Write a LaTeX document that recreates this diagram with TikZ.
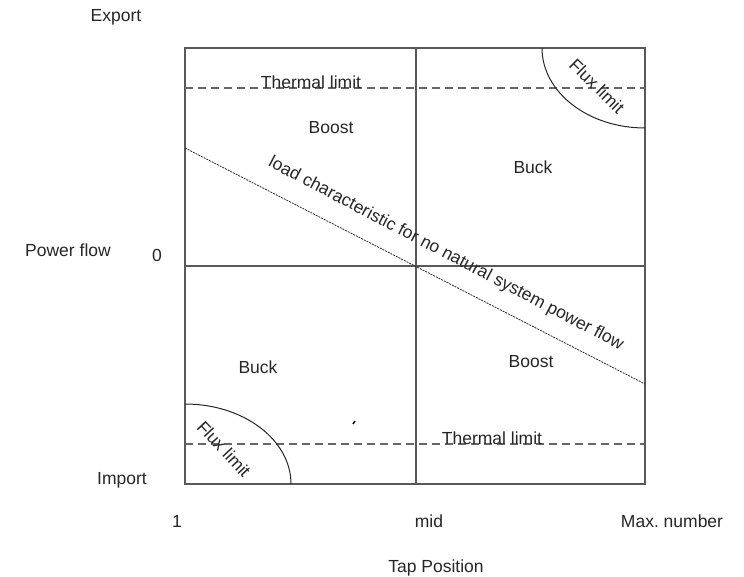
\documentclass[tikz,border=0pt]{standalone}
\usepackage{fontspec}
\setmainfont{Liberation Sans}
\begin{document}
\begin{tikzpicture}[x=1pt,y=-1pt,
  lbl/.style={font=\fontsize{17.5}{20}\selectfont, text=black!85, inner sep=0pt},
  frame/.style={draw=black!65, line width=1.2pt},
  limitline/.style={draw=black!60, line width=1.2pt, dash pattern=on 8pt off 5pt},
  loadline/.style={draw=black!85, line width=0.8pt, dash pattern=on 2pt off 1pt},
  arcline/.style={draw=black!85, line width=1pt}]
\useasboundingbox (0,0) rectangle (744,577);
% frame
\coordinate (tl) at (185,48);
\coordinate (br) at (645,484);
\coordinate (tm) at (416,48);
\coordinate (bm) at (416,484);
\coordinate (lm) at (185,266);
\coordinate (rm) at (645,266);
\draw[frame] (tl) rectangle (br);
\draw[frame] (tm) -- (bm);
\draw[frame] (lm) -- (rm);
% thermal limits
\coordinate (tl1) at (185,88);
\coordinate (tr1) at (645,88);
\coordinate (bl1) at (185,444);
\coordinate (br1) at (645,444);
\draw[limitline] (tl1) -- (tr1);
\draw[limitline] (bl1) -- (br1);
% load characteristic
\coordinate (ls) at (185,148);
\coordinate (le) at (645,384);
\draw[loadline] (ls) -- (le);
% flux limit arcs
\coordinate (fa) at (542,48);
\draw[arcline] (fa) arc[start angle=180, end angle=270, x radius=103pt, y radius=80pt];
\coordinate (fb) at (185,404);
\draw[arcline] (fb) arc[start angle=90, end angle=0, x radius=106pt, y radius=80pt];
% small mark
\coordinate (m1) at (353,424);
\coordinate (m2) at (355,421);
\draw[black, line width=1.4pt] (m1) -- (m2);
% labels
\node[lbl] (export) at (116,17) {Export};
\node[lbl] (pflow) at (68,250) {Power flow};
\node[lbl] (zero) at (157,255) {0};
\node[lbl] (import) at (122,480) {Import};
\node[lbl] (one) at (177,521) {1};
\node[lbl] (mid) at (429,521) {mid};
\node[lbl] (maxn) at (672,521) {Max.\ number};
\node[lbl] (tap) at (436,568) {Tap Position};
\node[lbl] (th1) at (311,82) {Thermal limit};
\node[lbl] (th2) at (492,438) {Thermal limit};
\node[lbl] (boost1) at (331,128) {Boost};
\node[lbl] (buck1) at (533,167) {Buck};
\node[lbl] (buck2) at (258,367) {Buck};
\node[lbl] (boost2) at (531,362) {Boost};
\node[lbl, rotate=-44.5] (flux1) at (597,86) {Flux limit};
\node[lbl, rotate=-47] (flux2) at (224,449) {Flux limit};
\node[lbl, rotate=-27.6] (loadlbl) at (446,254) {load characteristic for no natural system power flow};
\end{tikzpicture}
\end{document}
